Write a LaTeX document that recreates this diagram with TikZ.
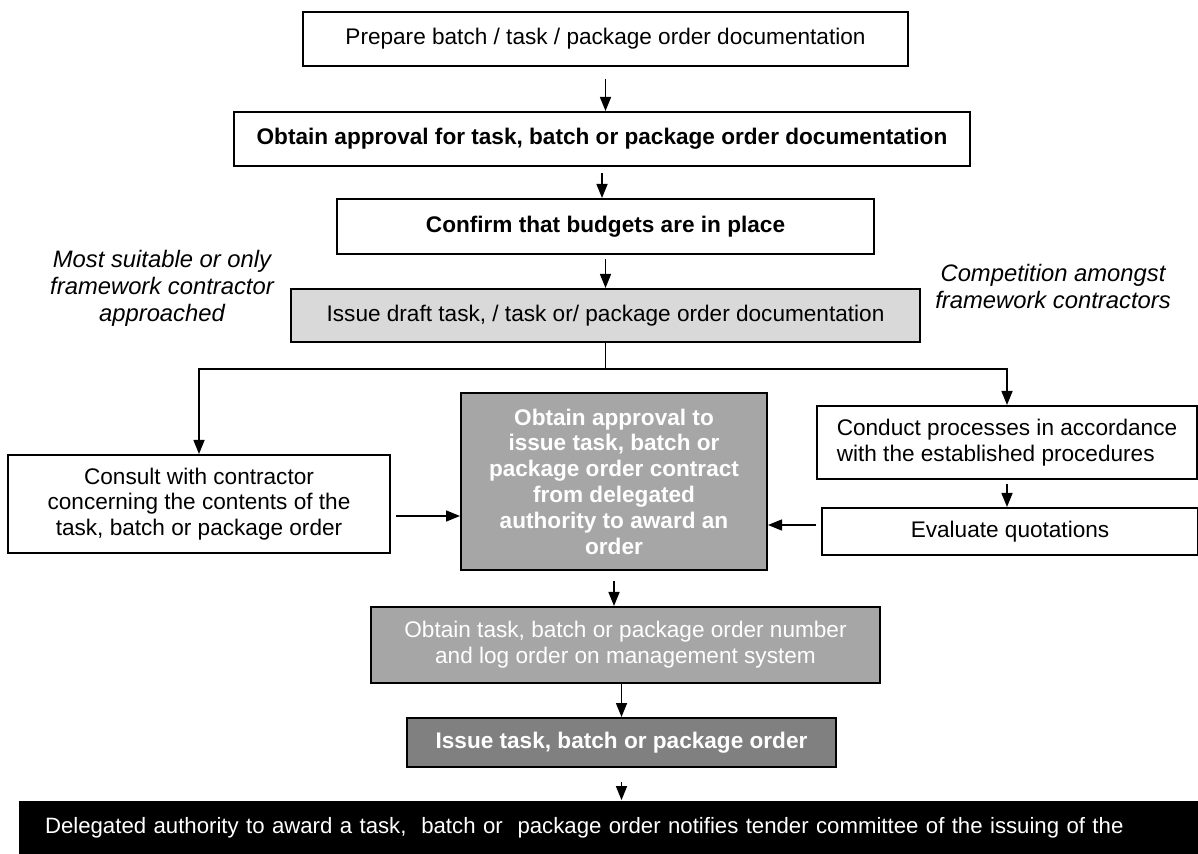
\documentclass[tikz,border=0pt]{standalone}
\usepackage{fontspec}
\setmainfont{Liberation Sans}
\usetikzlibrary{arrows.meta}
\usetikzlibrary{calc}
\definecolor{LightGrey}{HTML}{D9D9D9}
\definecolor{MidGrey}{HTML}{A6A6A6}
\definecolor{DarkGrey}{HTML}{808080}
\newcommand{\boxfont}{\fontsize{11.3}{12.9}\selectfont}
\newcommand{\notefont}{\fontsize{11.9}{13.5}\selectfont\itshape}
\tikzset{
  stage/.style={draw,line width=1pt,inner sep=2pt,align=center,font=\boxfont},
  boldstage/.style={stage,font=\boxfont\bfseries},
  note/.style={align=center,font=\notefont},
  flow/.style={line width=0.75pt,-{Triangle[width=5.5pt,length=7pt]}},
}
\begin{document}
\begin{tikzpicture}[x=0.5pt,y=-0.5pt]
  \useasboundingbox (0,0) rectangle (1198,854);

  % main column
  \node[stage,minimum width=302.5pt,minimum height=27pt] (prep) at (605.5,39)
    {Prepare batch / task / package order documentation};
  \node[boldstage,minimum width=368pt,minimum height=27pt] (appr) at (602,139)
    {Obtain approval for task, batch or package order documentation};
  \node[boldstage,minimum width=268.5pt,minimum height=27.5pt] (budg) at (605.5,226.5)
    {Confirm that budgets are in place};
  \node[stage,fill=LightGrey,minimum width=314.5pt,minimum height=26.5pt] (draft) at (605.5,315.5)
    {Issue draft task, / task or/ package order documentation};

  % branch labels
  \node[note] (suit) at (162,288) {Most suitable or only\\framework contractor\\approached};
  \node[note] (comp) at (1053,286) {Competition amongst\\framework contractors};

  % branches
  \node[stage,minimum width=191pt,minimum height=49pt,font=\fontsize{11.3}{12.75}\selectfont] (consult) at (199,504)
    {Consult with contractor\\concerning the contents of the\\task, batch or package order};
  \node[boldstage,fill=MidGrey,text=white,minimum width=153pt,minimum height=88.5pt] (award) at (614,481.5)
    {Obtain approval to\\issue task, batch or\\package order contract\\from delegated\\authority to award an\\order};
  \node[stage,align=left,minimum width=190pt,minimum height=36.5pt] (conduct) at (1007,442.5)
    {Conduct processes in accordance\\with the established procedures};
  \node[stage,minimum width=188pt,minimum height=23.5pt] (eval) at (1010,531.5)
    {Evaluate quotations};

  % lower column
  \node[stage,fill=MidGrey,text=white,minimum width=254.5pt,minimum height=38pt] (number) at (625.5,645)
    {Obtain task, batch or package order number\\and log order on management system};
  \node[boldstage,fill=DarkGrey,text=white,minimum width=214.5pt,minimum height=24.5pt] (issue) at (621.5,742.5)
    {Issue task, batch or package order};
  \node[fill=black,text=white,font=\fontsize{11.1}{12.9}\selectfont,align=left,inner xsep=13pt,
    text width=564.5pt,minimum height=27.5pt] (notify) at (609.5,828)
    {Delegated authority to award a task, \ batch or \ package order notifies tender committee of the issuing of the};

  \coordinate (split) at ($(draft.south)+(0,26)$);

  \draw[flow,shorten <=6pt] (prep.south) -- (prep.south |- appr.north);
  \draw[flow,shorten <=3pt] (appr.south) -- (appr.south |- budg.north);
  \draw[flow,shorten <=2pt] (budg.south) -- (budg.south |- draft.north);
  \draw[line width=0.75pt] (draft.south) -- (split);
  \draw[flow] (split) -| (consult.north);
  \draw[flow] (split) -| (conduct.north);
  \draw[flow,shorten <=2pt] (conduct.south) -- (conduct.south |- eval.north);
  \draw[flow] ([xshift=2.5pt,yshift=-6pt]consult.east) -- ([yshift=-6pt]consult.east -| award.west);
  \draw[flow] ([xshift=-2.5pt,yshift=3.25pt]eval.west) -- ([yshift=3.25pt]eval.west -| award.east);
  \draw[flow,shorten <=5pt] (award.south) -- (award.south |- number.north);
  \draw[flow] (issue.north |- number.south) -- (issue.north);
  \draw[flow,shorten <=7pt] (issue.south) -- (issue.south |- notify.north);
\end{tikzpicture}
\end{document}
